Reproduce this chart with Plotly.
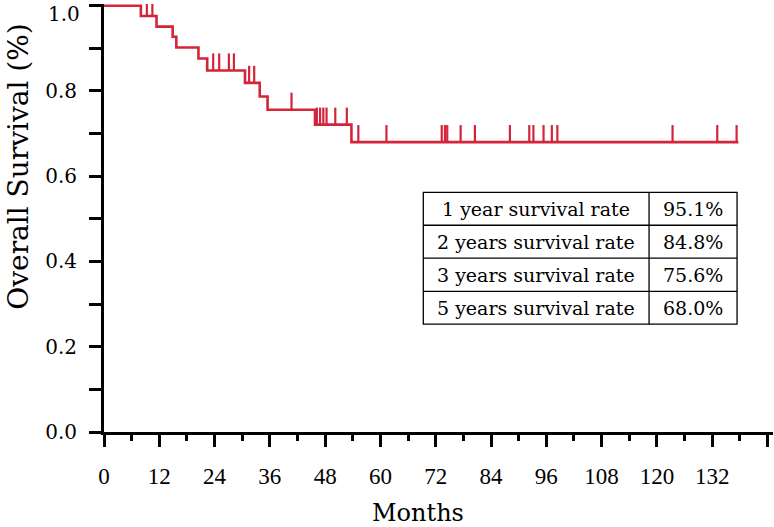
import bisect
import plotly.graph_objects as go

# ---- data ----
step_months = [0, 8.0, 11.4, 14.9, 15.7, 20.5, 22.4, 30.6, 33.8, 35.5, 45.8, 53.7]
step_survival = [1.0, 0.976, 0.951, 0.927, 0.902, 0.876, 0.848, 0.819, 0.787, 0.756, 0.721, 0.680]
last_followup = 137.7
censor_months = [9.3, 10.5, 23.7, 25.0, 27.1, 28.2, 31.5, 32.6, 40.7,
                 46.2, 46.9, 47.6, 48.3, 50.2, 52.7, 55.2, 61.3,
                 73.3, 74.0, 74.5, 77.4, 80.5, 88.1, 92.3, 93.2, 95.4,
                 97.2, 98.4, 123.4, 133.1, 137.3]

rate_labels = ["1 year survival rate", "2 years survival rate",
               "3 years survival rate", "5 years survival rate"]
rate_values = ["95.1%", "84.8%", "75.6%", "68.0%"]

x_tick_vals = [0, 12, 24, 36, 48, 60, 72, 84, 96, 108, 120, 132, 144]
x_tick_text = ["0", "12", "24", "36", "48", "60", "72", "84", "96", "108", "120", "132", ""]
y_tick_vals = [0, 0.2, 0.4, 0.6, 0.8, 1.0]
y_tick_text = ["0.0", "0.2", "0.4", "0.6", "0.8", ""]
y_top_label = "1.0"

RED = "#d3243a"
SERIF = "DejaVu Serif"
PLOT_W = 774 - 104 - 1
PLOT_H = 527 - 4 - 95

fig = go.Figure()

# KM curve
fig.add_trace(go.Scatter(
    x=step_months + [last_followup],
    y=step_survival + [step_survival[-1]],
    mode="lines", line=dict(color=RED, width=2.6, shape="hv"),
    showlegend=False, hoverinfo="skip"))

# censor marks (vertical ticks above the curve)
cx, cy = [], []
for t in censor_months:
    s = step_survival[bisect.bisect_right(step_months, t) - 1]
    cx += [t, t, None]
    cy += [s, s + 0.04, None]
fig.add_trace(go.Scatter(x=cx, y=cy, mode="lines",
                         line=dict(color=RED, width=2.2),
                         showlegend=False, hoverinfo="skip"))

# table
tx0, tx1, tx2 = 69.3, 118.3, 137.4
ty = [0.562, 0.485, 0.408, 0.330, 0.253]
line_style = dict(color="black", width=1.3)
fig.add_shape(type="rect", x0=tx0, x1=tx2, y0=ty[-1], y1=ty[0], line=line_style, layer="above")
fig.add_shape(type="line", x0=tx1, x1=tx1, y0=ty[-1], y1=ty[0], line=line_style, layer="above")
for yy in ty[1:-1]:
    fig.add_shape(type="line", x0=tx0, x1=tx2, y0=yy, y1=yy, line=line_style, layer="above")
for i, (lab, val) in enumerate(zip(rate_labels, rate_values)):
    yc = (ty[i] + ty[i + 1]) / 2
    fig.add_annotation(x=(tx0 + tx1) / 2, y=yc, text=lab, showarrow=False,
                       font=dict(family=SERIF, size=19, color="black"))
    fig.add_annotation(x=(tx1 + tx2) / 2, y=yc, text=val, showarrow=False,
                       font=dict(family=SERIF, size=19, color="black"))

# top tick label kept inside the page
fig.add_annotation(xref="paper", yref="paper", x=-22 / PLOT_W, y=1 + 4 / PLOT_H,
                   xanchor="right", yanchor="top", text=y_top_label, showarrow=False,
                   font=dict(family=SERIF, size=20, color="black"))

# axis titles as annotations
fig.add_annotation(xref="paper", yref="paper", x=-0.127, y=0.62, text="Overall Survival (%)",
                   textangle=-90, showarrow=False, xanchor="center", yanchor="middle",
                   font=dict(family=SERIF, size=28, color="black"))
fig.add_annotation(xref="paper", yref="paper", x=0.47, y=-0.19, text="Months",
                   showarrow=False, xanchor="center", yanchor="middle",
                   font=dict(family=SERIF, size=24, color="black"))

fig.update_xaxes(range=[0, 145.2], showgrid=False, zeroline=False, automargin=False,
                 showline=True, linecolor="black", linewidth=3,
                 tickmode="array", tickvals=x_tick_vals, ticktext=x_tick_text,
                 ticks="outside", ticklen=12, tickwidth=3, tickcolor="black",
                 ticklabelstandoff=9,
                 tickfont=dict(family="Liberation Serif", size=23, color="black"),
                 minor=dict(tickvals=[6, 18, 30, 42, 54, 66, 78, 90, 102, 114, 126, 138],
                            ticks="outside", ticklen=6, tickwidth=3, tickcolor="black"))
fig.update_yaxes(range=[0, 1.004], showgrid=False, zeroline=False, automargin=False,
                 showline=True, linecolor="black", linewidth=3,
                 tickmode="array", tickvals=y_tick_vals, ticktext=y_tick_text,
                 ticks="outside", ticklen=12, tickwidth=3, tickcolor="black",
                 ticklabelstandoff=8,
                 tickfont=dict(family=SERIF, size=20, color="black"),
                 minor=dict(tickvals=[0.1, 0.3, 0.5, 0.7, 0.9],
                            ticks="outside", ticklen=12, tickwidth=3, tickcolor="black"))

fig.update_layout(width=774, height=527, margin=dict(l=104, r=1, t=4, b=95, autoexpand=False),
                  paper_bgcolor="white", plot_bgcolor="white")

fig.write_html("out.html", config={"displayModeBar": False},
               post_script="document.body.style.margin='0';")
